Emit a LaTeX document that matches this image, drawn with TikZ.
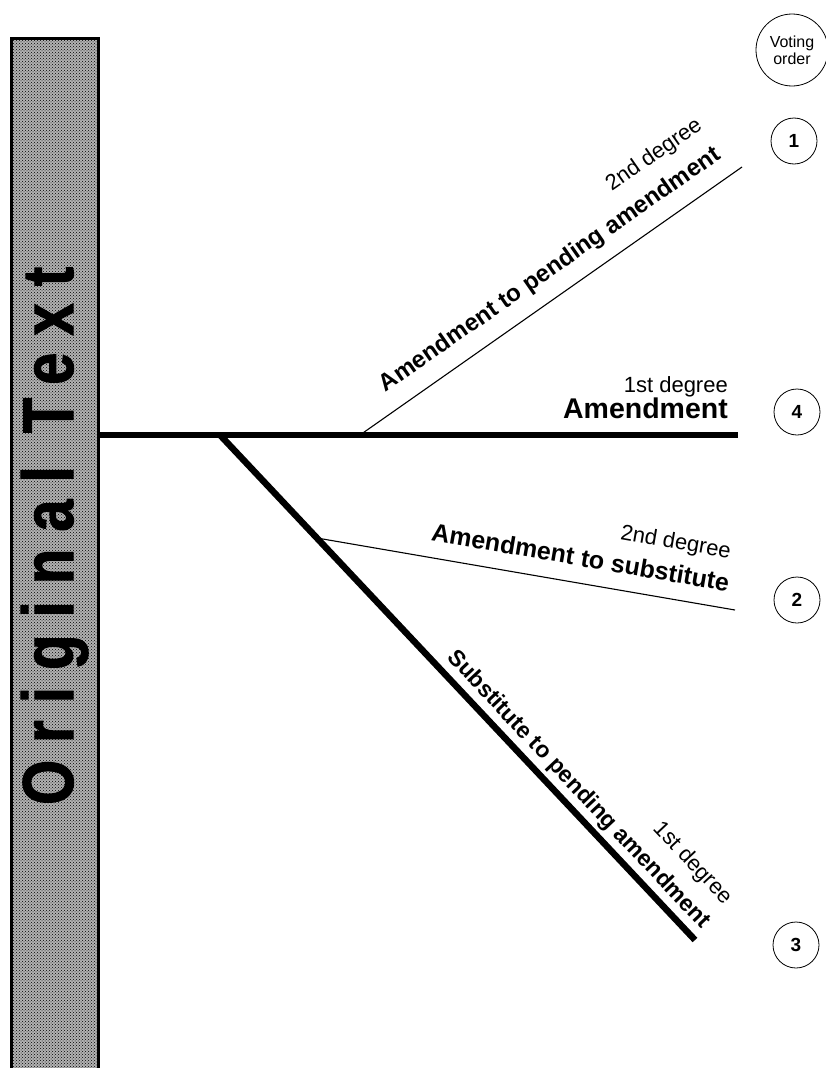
\documentclass[tikz,border=0pt]{standalone}
\usepackage{fontspec}
\setmainfont{Liberation Sans}
\newfontfamily\spinefont{Liberation Sans}[FakeStretch=0.8,LetterSpace=24,FakeBold=1.5]
\usetikzlibrary{patterns}
\tikzset{
  deg/.style={font=\fontsize{22}{24}\selectfont, inner sep=0pt},
  lbl/.style={font=\bfseries\fontsize{24}{26}\selectfont, inner sep=0pt},
  heavy/.style={line width=6.5pt},
  thinline/.style={line width=1.1pt},
  vote/.style={circle, draw, line width=0.8pt, minimum size=46pt, inner sep=0pt, font=\bfseries\fontsize{19}{19}\selectfont},
}
\begin{document}
\begin{tikzpicture}[x=1pt,y=-1pt]
\useasboundingbox (0,0) rectangle (825,1068);
% bar
\fill[black!30] (11,38) rectangle (98,1080);
\fill[pattern=crosshatch dots, pattern color=black] (11,38) rectangle (98,1080);
\draw[line width=3pt] (11,1080) -- (11,38) -- (98,38) -- (98,1080);
\node[rotate=90, anchor=base west, inner sep=0pt, font=\spinefont\bfseries\fontsize{72}{72}\selectfont] (spine) at (73,805) {Original Text};
% coordinates
\coordinate (L0) at (98,435);
\coordinate (E0) at (738,435);
\coordinate (J1) at (220,435);
\coordinate (E3) at (695,940);
\coordinate (J2) at (360,435);
\coordinate (E1) at (742,167);
\coordinate (J3) at (317,538);
\coordinate (E2) at (735,610);
% connectors
\draw[heavy] (L0) -- (E0);
\draw[heavy] (J1) -- (E3);
\draw[thinline] (J2) -- (E1);
\draw[thinline] (J3) -- (E2);
% labels
\node[lbl, rotate=34.85, anchor=base east] (t1) at (721.9,158.3) {Amendment to pending amendment};
\node[deg, rotate=34.85, anchor=base east] (d1) at (703.3,128.1) {2nd degree};
\node[deg, anchor=base east] (d0) at (728,392) {1st degree};
\node[font=\bfseries\fontsize{28.5}{30}\selectfont, inner sep=0pt, anchor=base east] (t0) at (728,418) {Amendment};
\node[lbl, font=\bfseries\fontsize{25}{27}\selectfont, rotate=-9.77, anchor=base east] (t2) at (727.8,591.6) {Amendment to substitute};
\node[deg, rotate=-9.77, anchor=base east] (d2) at (729.7,558.4) {2nd degree};
\node[lbl, font=\bfseries\fontsize{23}{25}\selectfont, rotate=-46.75, anchor=base east] (t3) at (701.4,929.4) {Substitute to pending amendment};
\node[deg, rotate=-46.75, anchor=base east] (d3) at (724.1,905.3) {1st degree};
% voting order
\node[circle, draw, line width=0.8pt, minimum size=72pt, inner sep=0pt, align=center, font=\fontsize{16}{17}\selectfont] (vo) at (792,50) {Voting\\order};
\node[vote] (v1) at (794,141) {1};
\node[vote] (v4) at (797,412) {4};
\node[vote] (v2) at (797,600) {2};
\node[vote] (v3) at (796,945) {3};
\end{tikzpicture}
\end{document}
